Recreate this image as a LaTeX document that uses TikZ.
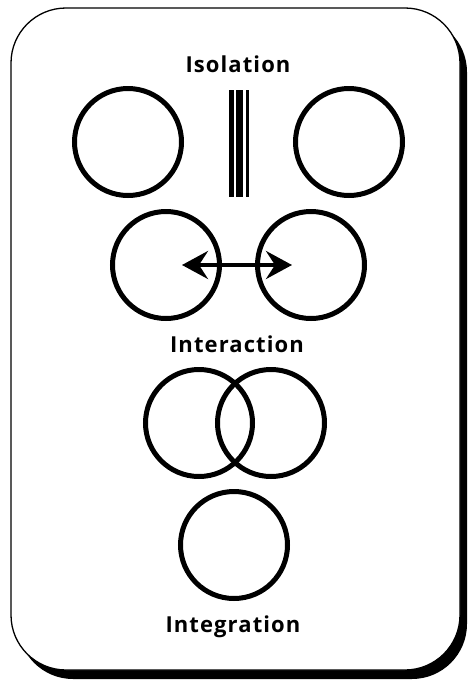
\documentclass[tikz,border=0pt]{standalone}
\usepackage{fontspec}
\setmainfont{Open Sans}[LetterSpace=5]
\usetikzlibrary{arrows.meta,calc}
\definecolor{Ink}{HTML}{000000}

\begin{document}
\begin{tikzpicture}[x=1pt,y=-1pt,
  ring/.style={circle,draw=Ink,line width=5pt,minimum size=107pt,inner sep=0pt},
  label/.style={anchor=base,font=\fontsize{22}{26}\selectfont\bfseries,text=Ink,inner sep=0pt},
  bar/.style={fill=Ink},
  arrow/.style={{Stealth[length=26pt,width=28pt,inset=9pt]}-{Stealth[length=26pt,width=28pt,inset=9pt]},line width=4pt,draw=Ink}
]
\useasboundingbox (0,0) rectangle (468,681);
% frame with shadow
\fill[Ink,rounded corners=55pt] (18,17) rectangle (467,679);
\draw[Ink,fill=white,line width=1.3pt,rounded corners=55pt] (11,8) rectangle (460,670);
% isolation
\node[label] (isoText) at (238,72) {Isolation};
\node[ring] (isoL) at (128,142) {};
\node[ring] (isoR) at (349,142) {};
\fill[bar] (229,90) rectangle (234,197);
\fill[bar] (236,90) rectangle (243,197);
\fill[bar] (245.5,90) rectangle (249,197);
% interaction
\node[ring] (intL) at (166,265) {};
\node[ring] (intR) at (311,265) {};
\draw[arrow] ($(intL.center)+(16,0)$) -- ($(intR.center)-(19,0)$);
\node[label] (intText) at (237,352) {Interaction};
% overlap
\node[ring] (ovlL) at (199,423) {};
\node[ring] (ovlR) at (271,423) {};
% integration
\node[ring] (intg) at (234,545) {};
\node[label] (intgText) at (233,632) {Integration};
\end{tikzpicture}
\end{document}
